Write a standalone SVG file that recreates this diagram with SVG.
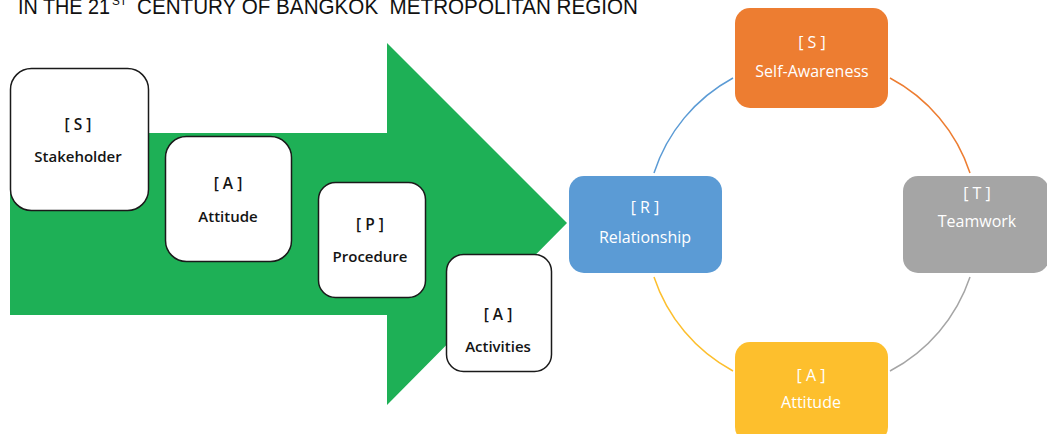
<svg xmlns="http://www.w3.org/2000/svg" width="1047" height="434" viewBox="0 0 1047 434">
<style>
.title{font-family:"Liberation Sans",Arial,sans-serif;fill:#111;font-size:22px}
.sup{font-size:13px}
.wbox{fill:#fff;stroke:#1a1a1a;stroke-width:1.5}
.dk{font-family:"Open Sans","Noto Sans",sans-serif;fill:#141414;text-anchor:middle;font-weight:600}
.lt{font-family:"Open Sans","Noto Sans",sans-serif;fill:#fff;text-anchor:middle}
.br{font-size:15.5px}
.lb{font-size:15px}
.lbw{font-size:16px}
.arc{fill:none;stroke-width:1.5}
</style>
<rect width="1047" height="434" fill="#fff"/>
<g id="title">
<text class="title" x="18" y="13.5" textLength="92" lengthAdjust="spacingAndGlyphs">IN THE 21</text>
<text class="title sup" x="112" y="5" textLength="15" lengthAdjust="spacingAndGlyphs">ST</text>
<text class="title" x="137" y="13.5" textLength="501" lengthAdjust="spacingAndGlyphs" xml:space="preserve">CENTURY OF BANGKOK  METROPOLITAN REGION</text>
</g>
<g id="arrow">
<path d="M10,133 H387 V43 L567,223 L387,405 V315 H10 Z" fill="#1EB056"/>
</g>
<g id="connectors">
<path class="arc" stroke="#5B9BD5" d="M654,173 A166,166 0 0 1 733,78"/>
<path class="arc" stroke="#ED7D31" d="M890,78 A166,166 0 0 1 970,173"/>
<path class="arc" stroke="#A5A5A5" d="M970,277 A166,166 0 0 1 890,371"/>
<path class="arc" stroke="#FDBF2D" d="M733,371 A166,166 0 0 1 654,277"/>
</g>
<g id="node-stakeholder">
<rect class="wbox" x="10.5" y="68.5" width="138" height="142" rx="21"/>
<text class="dk br" x="78" y="130">[ S ]</text>
<text class="dk lb" x="78" y="162">Stakeholder</text>
</g>
<g id="node-attitude-left">
<rect class="wbox" x="165.5" y="136.5" width="126" height="125" rx="21"/>
<text class="dk br" x="228" y="189">[ A ]</text>
<text class="dk lb" x="228" y="222">Attitude</text>
</g>
<g id="node-procedure">
<rect class="wbox" x="318.5" y="182.5" width="107" height="115" rx="17"/>
<text class="dk br" x="370" y="230">[ P ]</text>
<text class="dk lb" x="370" y="262">Procedure</text>
</g>
<g id="node-activities">
<rect class="wbox" x="446.5" y="254.5" width="105" height="117" rx="17"/>
<text class="dk br" x="498" y="320">[ A ]</text>
<text class="dk lb" x="498" y="352">Activities</text>
</g>
<g id="node-relationship">
<rect x="569" y="176" width="153" height="97" rx="15" fill="#5B9BD5"/>
<text class="lt lbw" x="645" y="213">[ R ]</text>
<text class="lt lbw" x="645" y="243">Relationship</text>
</g>
<g id="node-self-awareness">
<rect x="735" y="8" width="153" height="100" rx="15" fill="#ED7D31"/>
<text class="lt lbw" x="812" y="48">[ S ]</text>
<text class="lt lbw" x="812" y="77">Self-Awareness</text>
</g>
<g id="node-teamwork">
<rect x="903" y="176" width="146" height="97" rx="15" fill="#A5A5A5"/>
<text class="lt lbw" x="977" y="199">[ T ]</text>
<text class="lt lbw" x="977" y="227">Teamwork</text>
</g>
<g id="node-attitude-right">
<rect x="735" y="342" width="153" height="100" rx="15" fill="#FDBF2D"/>
<text class="lt lbw" x="811" y="381">[ A ]</text>
<text class="lt lbw" x="811" y="408">Attitude</text>
</g>
</svg>
